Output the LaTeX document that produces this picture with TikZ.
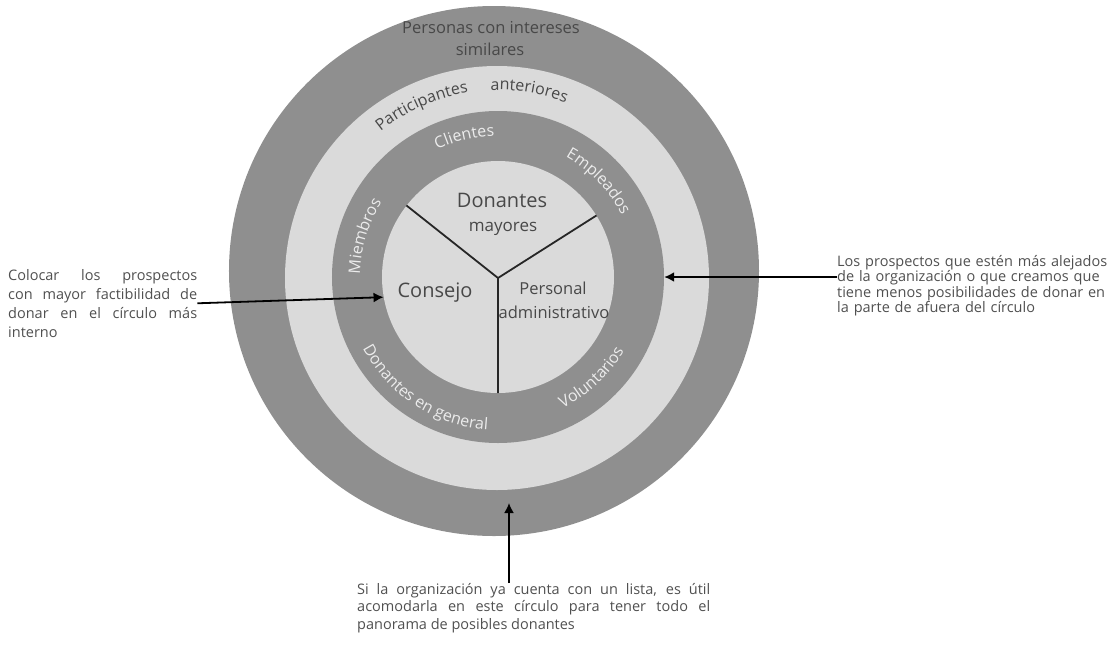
\documentclass[tikz,border=0pt]{standalone}
\usepackage{fontspec}
\setmainfont{Open Sans}
\usepackage{tikz}
\usetikzlibrary{arrows.meta,decorations.text}

\definecolor{anilloOsc}{RGB}{143,143,143}
\definecolor{anilloClaro}{RGB}{218,218,218}
\definecolor{textoOsc}{RGB}{72,72,72}
\definecolor{textoClaro}{RGB}{236,236,236}
\definecolor{textoNota}{RGB}{80,80,80}

\newcommand{\letraAnillo}{\fontsize{16}{16}\selectfont}

\begin{document}
\begin{tikzpicture}[x=1pt,y=1pt,
    disco/.style={circle,inner sep=0pt,draw=none},
    rotulo/.style={anchor=base,inner sep=0pt,text=textoOsc},
    nota/.style={anchor=north west,inner sep=0pt,text=textoNota},
    flecha/.style={line width=1.8pt,-{Latex[length=10pt,width=10pt]}},
    radio/.style={line width=1.8pt,draw=black!85,line join=round}]
  \useasboundingbox (-498,-372) rectangle (620,277);

  % circulos
  \node[disco,fill=anilloOsc,minimum size=530pt] (ext) at (-4,6) {};
  \node[disco,fill=anilloClaro,minimum size=424pt] (part) at (-1,-1) {};
  \node[disco,fill=anilloOsc,minimum size=332pt] (emp) at (0,0) {};
  \node[disco,fill=anilloClaro,minimum size=232pt] (core) at (0,0) {};

  % division del circulo interno
  \coordinate (yc) at (0,-1);
  \draw[radio] (core.142) -- (yc) -- (core.32) (yc) -- (core.south);

  \node[rotulo,font=\fontsize{20}{20}\selectfont] (don) at (4,70) {Donantes};
  \node[rotulo,font=\fontsize{17}{17}\selectfont] (may) at (5,46) {mayores};
  \node[rotulo,font=\fontsize{20}{20}\selectfont] (cons) at (-63,-20) {Consejo};
  \node[rotulo,font=\fontsize{16.5}{16.5}\selectfont] (pers) at (55,-17.5) {Personal};
  \node[rotulo,font=\fontsize{16.5}{16.5}\selectfont] (adm) at (56,-41) {administrativo};

  % anillo exterior
  \node[rotulo,font=\fontsize{16.5}{16.5}\selectfont] (sim1) at (-7,244) {Personas con intereses};
  \node[rotulo,font=\fontsize{16.5}{16.5}\selectfont] (sim2) at (-8,222) {similares};

  % textos curvos
  \path[decorate,decoration={text along path,text align=center,
      text={|\color{textoOsc}\letraAnillo|Participantes}}]
    (130:187) arc[start angle=130,end angle=98,radius=187];
  \path[decorate,decoration={text along path,text align=center,
      text={|\color{textoOsc}\letraAnillo|anteriores}}]
    (93:187) arc[start angle=93,end angle=68,radius=187];
  \path[decorate,decoration={text along path,text align=center,
      text={|\color{textoClaro}\letraAnillo|Clientes}}]
    (116:141) arc[start angle=116,end angle=91,radius=141];
  \path[decorate,decoration={text along path,text align=center,
      text={|\color{textoClaro}\letraAnillo|Empleados}}]
    (62:138) arc[start angle=62,end angle=25,radius=138];
  \path[decorate,decoration={text along path,text align=center,
      text={|\color{textoClaro}\letraAnillo|Miembros}}]
    (181:138) arc[start angle=181,end angle=145,radius=138];
  \path[decorate,decoration={text along path,text align=center,
      text={|\color{textoClaro}\letraAnillo|Donantes en  general}}]
    (200:153) arc[start angle=200,end angle=274,radius=153];
  \path[decorate,decoration={text along path,text align=center,
      text={|\color{textoClaro}\letraAnillo|Voluntarios}}]
    (294:146) arc[start angle=294,end angle=332,radius=146];

  % notas
  \node[nota,text width=189pt,align=justify,font=\fontsize{14.5}{19}\selectfont] (nota1) at (-490,8)
    {Colocar los prospectos\linebreak con mayor factibilidad de\linebreak donar en el círculo más\linebreak interno};
  \node[nota,text width=282pt,align=left,font=\fontsize{14.5}{15.5}\selectfont] (nota2) at (339,22)
    {Los prospectos que estén más alejados\\de la organización o que creamos que\\tiene menos posibilidades de donar en\\la parte de afuera del círculo};
  \node[nota,text width=353pt,align=justify,font=\fontsize{14.5}{17.5}\selectfont] (nota3) at (-141,-306)
    {Si la organización ya cuenta con un lista, es útil\linebreak acomodarla en este círculo para tener todo el\linebreak panorama de posibles donantes};

  % flechas
  \coordinate (puntaB) at (11,-226);
  \draw[flecha] (nota1.east) -- (core.190);
  \draw[flecha] (emp.east -| nota2.west) -- (emp.east);
  \draw[flecha] (nota3.north -| puntaB) -- (puntaB);
\end{tikzpicture}
\end{document}
